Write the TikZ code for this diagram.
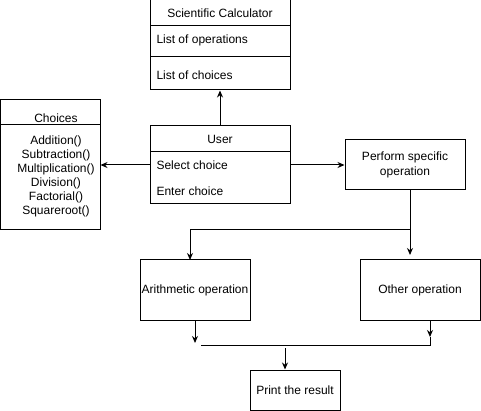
\documentclass[tikz,border=0pt]{standalone}
\usepackage{fontspec}
\setmainfont{Liberation Sans}
\usetikzlibrary{arrows.meta}
\begin{document}
\begin{tikzpicture}[x=1pt, y=-1pt, line width=1pt, font=\fontsize{12}{14}\selectfont,
    box/.style={draw, inner sep=0pt},
    txt/.style={inner sep=0pt, anchor=west},
    arr/.style={-{Stealth[length=7pt,width=6pt]}}]
    \useasboundingbox (0,0) rectangle (481,411);
    % scientific calculator class
    \node[box, minimum width=140pt, minimum height=26pt] (sctitle) at (220,13) {Scientific Calculator};
    \node[box, minimum width=140pt, minimum height=31pt] (scops) at (220,41.5) {};
    \node[box, minimum width=140pt, minimum height=33pt] (scchoice) at (220,73.5) {};
    \node[txt] (opstext) at (156,40) {List of operations};
    \node[txt] (choicetext) at (156,75) {List of choices};
    % choices class
    \node[box, minimum width=100pt, minimum height=25pt] (chtitle) at (50,112.5) {};
    \node[box, minimum width=100pt, minimum height=105pt] (chbody) at (50,177.5) {};
    \node[inner sep=0pt] (chlabel) at (56,118) {Choices};
    \node[inner sep=0pt, align=center] (chitems) at (56,176) {Addition()\\Subtraction()\\Multiplication()\\Division()\\Factorial()\\Squareroot()};
    % user class
    \node[box, minimum width=140pt, minimum height=26pt] (usertitle) at (220,139) {User};
    \node[box, minimum width=140pt, minimum height=52pt] (userbody) at (220,178) {};
    \node[txt] (seltext) at (156,165) {Select choice};
    \node[txt] (entertext) at (156,191) {Enter choice};
    % operations
    \node[box, minimum width=120pt, minimum height=50pt, align=center, font=\fontsize{12}{15}\selectfont] (perform) at (405,165) {Perform specific\\operation};
    \node[box, minimum width=110pt, minimum height=60pt] (arith) at (195,290) {Arithmetic operation};
    \node[box, minimum width=120pt, minimum height=60pt] (other) at (420,290) {Other operation};
    \node[box, minimum width=90pt, minimum height=40pt] (print) at (295,390) {Print the result};
    % free ends
    \coordinate (fork) at (410,230);
    \coordinate (otherin) at (410,255);
    \coordinate (arithin) at (190,260);
    \coordinate (ajoin) at (195,343);
    \coordinate (ojoin) at (430,337);
    \coordinate (merger) at (430,345);
    \coordinate (mergel) at (201,345);
    \coordinate (printin) at (285,348);
    % connectors
    \draw[arr] (usertitle.north) -- (scchoice.south);
    \draw[arr] (userbody.west |- seltext) -- (chbody.east |- seltext);
    \draw[arr] (userbody.east |- perform.west) -- (perform.west);
    \draw[arr] (perform.south -| fork) -- (otherin);
    \draw[arr] (fork) -| (arithin);
    \draw[arr] (arith.south) -- (ajoin);
    \draw[arr] (other.south -| ojoin) -- (ojoin);
    \draw (ojoin) -- (merger) -- (mergel);
    \draw[arr] (printin) -- (print.north -| printin);
\end{tikzpicture}
\end{document}
